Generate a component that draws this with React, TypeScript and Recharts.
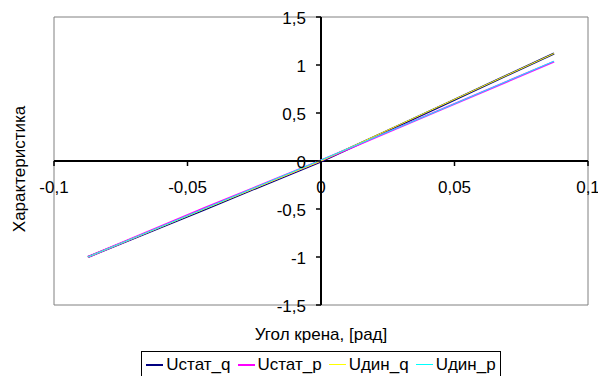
import {
  LineChart,
  Line,
  XAxis,
  YAxis,
  CartesianGrid,
  ReferenceLine,
  ReferenceDot,
  ReferenceArea,
  Legend,
} from 'recharts';

// угол крена, рад (±5°)
const ANGLES = [-0.0873, -0.0436, 0, 0.0436, 0.0873];

const U_STAT_Q = [-1.0, -0.505, -0.005, 0.555, 1.12];
const U_STAT_P = [-1.0, -0.49, 0.005, 0.52, 1.035];
const U_DIN_Q = [-1.0, -0.5, 0.0, 0.56, 1.12];
const U_DIN_P = [-1.0, -0.495, 0.01, 0.52, 1.04];

const X_TICKS = [-0.1, -0.05, 0, 0.05, 0.1];
const X_TICK_LABELS = ['-0,1', '-0,05', '0', '0,05', '0,1'];
const Y_TICKS = [-1.5, -1, -0.5, 0, 0.5, 1, 1.5];
const Y_TICK_LABELS = ['-1,5', '-1', '-0,5', '0', '0,5', '1', '1,5'];
const GRID_Y = [-1, -0.5, 0.5, 1];

const SERIES = [
  { key: 'statQ', name: 'Uстат_q', color: '#000080', width: 2 },
  { key: 'statP', name: 'Uстат_p', color: '#ff00ff', width: 2 },
  { key: 'dinQ', name: 'Uдин_q', color: '#ffff00', width: 1 },
  { key: 'dinP', name: 'Uдин_p', color: '#00ffff', width: 1 },
];

const data = ANGLES.map((x, i) => ({
  x,
  statQ: U_STAT_Q[i],
  statP: U_STAT_P[i],
  dinQ: U_DIN_Q[i],
  dinP: U_DIN_P[i],
}));

const FONT = '"Liberation Sans", Arial, sans-serif';
const FS = 17;

// метки оси X рисуются у линии y = 0
const xTickShape = (label: string) => (p: any) => (
  <g>
    <line x1={p.cx} y1={p.cy} x2={p.cx} y2={p.cy + 5} stroke="#000" strokeWidth={1.5} />
    <text x={p.cx} y={p.cy + 26} dy="0.35em" textAnchor="middle" fontSize={FS} fill="#000">
      {label}
    </text>
  </g>
);

// метки оси Y — у линии x = 0
const yTickShape = (label: string) => (p: any) => (
  <g>
    <line x1={p.cx - 5} y1={p.cy} x2={p.cx} y2={p.cy} stroke="#000" strokeWidth={1.5} />
    <text x={p.cx - 15} y={p.cy} dy="0.4em" textAnchor="end" fontSize={FS} fill="#000">
      {label}
    </text>
  </g>
);

const yTitle = (p: any) => {
  const vb = p.viewBox;
  const cx = vb.x + 19;
  const cy = vb.y + vb.height / 2 + 8;
  return (
    <text
      x={cx}
      y={cy}
      dy="0.35em"
      textAnchor="middle"
      fontSize={FS}
      fill="#000"
      transform={`rotate(-90, ${cx}, ${cy})`}
    >
      Характеристика
    </text>
  );
};

// легенда в рамке, порядок серий как в SERIES
function LegendBox(props: any) {
  const items = SERIES.map((s) => ({
    s,
    entry: (props.payload ?? []).find((e: any) => e.dataKey === s.key),
  }));
  return (
    <div style={{ textAlign: 'center', marginTop: 1 }}>
      <div
        style={{
          display: 'inline-flex',
          alignItems: 'center',
          border: '1px solid #000',
          background: '#fff',
          padding: '3px 4px 5px 4px',
          fontSize: FS,
          fontFamily: FONT,
          color: '#000',
          lineHeight: '19px',
        }}
      >
        {items.map(({ s, entry }, i) => (
          <span
            key={s.key}
            style={{ display: 'inline-flex', alignItems: 'center', marginLeft: i === 0 ? 0 : 7 }}
          >
            <span
              style={{
                display: 'inline-block',
                width: 17,
                height: 0,
                borderTop: `${s.width}px solid ${entry?.color ?? s.color}`,
                marginRight: 3,
              }}
            />
            {entry?.value ?? s.name}
          </span>
        ))}
      </div>
    </div>
  );
}

export default function App() {
  return (
    <div
      style={{
        position: 'absolute',
        left: 0,
        top: 0,
        width: 598,
        height: 376,
        background: '#fff',
        fontFamily: FONT,
        overflow: 'hidden',
      }}
    >
      <LineChart width={598} height={376} data={data} margin={{ top: 17, right: 10, bottom: 0, left: 0 }}>
        <CartesianGrid horizontal vertical={false} horizontalValues={GRID_Y} stroke="#000" strokeWidth={1} />
        <ReferenceArea x1={-0.1} x2={0.1} y1={-1.5} y2={1.5} fill="none" stroke="#808080" strokeWidth={1} />
        <XAxis
          type="number"
          dataKey="x"
          domain={[-0.1, 0.1]}
          ticks={X_TICKS}
          axisLine={false}
          tickLine={false}
          tick={false}
          height={45}
          label={{ value: 'Угол крена, [рад]', position: 'insideTop', offset: 23, fontSize: FS, fill: '#000' }}
        />
        <YAxis
          type="number"
          domain={[-1.5, 1.5]}
          ticks={Y_TICKS}
          axisLine={false}
          tickLine={false}
          tick={false}
          width={54}
          label={{ content: yTitle }}
        />
        <ReferenceLine x={0} stroke="#000" strokeWidth={2} />
        <ReferenceLine y={0} stroke="#000" strokeWidth={2} />
        {X_TICKS.map((t, i) => (
          <ReferenceDot key={`xt${t}`} x={t} y={0} r={0} shape={xTickShape(X_TICK_LABELS[i])} />
        ))}
        {Y_TICKS.map((t, i) => (
          <ReferenceDot key={`yt${t}`} x={0} y={t} r={0} shape={yTickShape(Y_TICK_LABELS[i])} />
        ))}
        {SERIES.map((s) => (
          <Line
            key={s.key}
            type="linear"
            dataKey={s.key}
            name={s.name}
            stroke={s.color}
            strokeWidth={s.width}
            dot={false}
            activeDot={false}
            isAnimationActive={false}
          />
        ))}
        <Legend verticalAlign="bottom" height={26} content={LegendBox} wrapperStyle={{ left: 54, width: 534, bottom: 0 }} />
      </LineChart>
    </div>
  );
}
